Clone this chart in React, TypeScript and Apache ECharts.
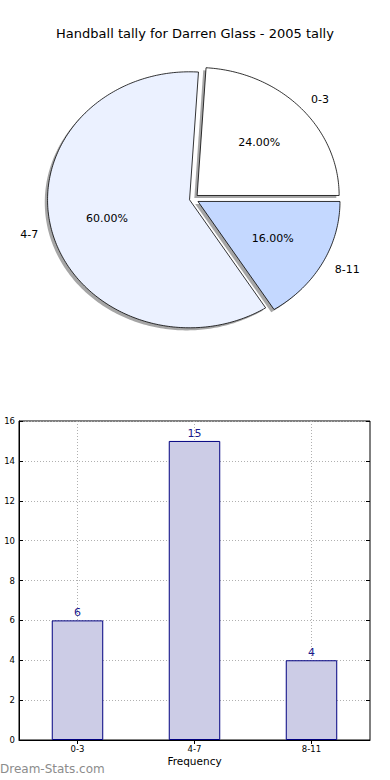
import React, { useEffect, useRef } from "react";
import * as echarts from "echarts";

const pieTitle = "Handball tally for Darren Glass - 2005 tally";
const pieLabels = ["0-3", "4-7", "8-11"];
const pieValues = [6, 15, 4];
const pieColors = ["#ffffff", "#ebf1ff", "#c4d8ff"];
const pieExplode = [0.04, 0.025, 0.04];

const barCategories = ["0-3", "4-7", "8-11"];
const barValues = [6, 15, 4];
const yMin = 0;
const yMax = 16;
const yInterval = 2;
const xAxisName = "Frequency";
const yAxisName = "Handball Tally";
const watermark = "Dream-Stats.com";

const FONT = "DejaVu Sans";
const CX = 193;
const CY = 199;
const RX = 142;
const RY = 128;

export default function App() {
  const ref = useRef<HTMLDivElement>(null);
  useEffect(() => {
    if (!ref.current) return;
    const chart = echarts.init(ref.current, undefined, { renderer: "svg" });
    const total = pieValues.reduce((a, b) => a + b, 0);
    const starts: number[] = [];
    let acc = 0;
    pieValues.forEach((v) => {
      starts.push(acc);
      acc += v;
    });

    const renderPie = (params: any, api: any) => {
      const i = params.dataIndex;
      const v = api.value(0);
      const t1 = (2 * Math.PI * starts[i]) / total;
      const t2 = t1 + (2 * Math.PI * v) / total;
      const mid = (t1 + t2) / 2;
      const ex = pieExplode[i];
      const vx = CX + ex * RX * Math.cos(mid);
      const vy = CY - ex * RY * Math.sin(mid);
      const pts: number[][] = [[vx, vy]];
      const n = Math.max(8, Math.ceil(((t2 - t1) * 180) / Math.PI));
      for (let k = 0; k <= n; k++) {
        const t = t1 + ((t2 - t1) * k) / n;
        pts.push([vx + RX * Math.cos(t), vy - RY * Math.sin(t)]);
      }
      const shadowPts = pts.map((p) => [p[0] - 2.8, p[1] + 2.6]);
      const lx = vx + 1.1 * RX * Math.cos(mid);
      const ly = vy - 1.1 * RY * Math.sin(mid);
      const px = vx + 0.6 * RX * Math.cos(mid);
      const py = vy - 0.6 * RY * Math.sin(mid);
      const pct = ((v / total) * 100).toFixed(2) + "%";
      return {
        type: "group",
        children: [
          {
            type: "polygon",
            z2: 0,
            shape: { points: shadowPts },
            style: { fill: "rgba(77,77,77,0.5)", stroke: "none" },
          },
          {
            type: "polygon",
            z2: 5,
            shape: { points: pts },
            style: { fill: pieColors[i], stroke: "#000", lineWidth: 0.8 },
          },
          {
            type: "text",
            z2: 10,
            x: lx,
            y: ly,
            style: {
              text: pieLabels[i],
              fill: "#000",
              font: `11px "${FONT}"`,
              align: Math.cos(mid) > 0 ? "left" : "right",
              verticalAlign: "middle",
            },
          },
          {
            type: "text",
            z2: 10,
            x: px,
            y: py,
            style: {
              text: pct,
              fill: "#000",
              font: `11px "${FONT}"`,
              align: "center",
              verticalAlign: "middle",
            },
          },
        ],
      };
    };

    const gridLine = { show: true, lineStyle: { color: "#b0b0b0", type: [1, 2], width: 1 } };

    chart.setOption({
      animation: false,
      textStyle: { fontFamily: FONT },
      title: {
        text: pieTitle,
        left: "center",
        top: 22,
        textStyle: { fontFamily: FONT, fontSize: 13, fontWeight: "normal", color: "#000" },
      },
      grid: {
        left: 19,
        right: 20,
        top: 421,
        bottom: 40,
        containLabel: false,
        outerBoundsMode: "none",
        show: true,
        borderColor: "#000",
        borderWidth: 1,
        backgroundColor: "transparent",
      },
      xAxis: [
        {
          type: "category",
          data: barCategories,
          boundaryGap: true,
          name: xAxisName,
          nameLocation: "middle",
          nameGap: 15,
          nameTextStyle: { fontFamily: FONT, fontSize: 10.5, color: "#000" },
          axisLine: { show: true, lineStyle: { color: "#000" } },
          axisTick: { show: true, alignWithLabel: true, inside: true, length: 4, lineStyle: { color: "#000" } },
          axisLabel: { fontFamily: FONT, fontSize: 8.5, color: "#000", margin: 4 },
          splitLine: { ...gridLine, alignWithLabel: true },
        },
        {
          type: "category",
          data: barCategories,
          position: "top",
          boundaryGap: true,
          axisLine: { show: false },
          axisTick: { show: true, alignWithLabel: true, inside: true, length: 4, lineStyle: { color: "#000" } },
          axisLabel: { show: false },
          splitLine: { show: false },
        },
      ],
      yAxis: [
        {
          type: "value",
          min: yMin,
          max: yMax,
          interval: yInterval,
          name: yAxisName,
          nameLocation: "middle",
          nameGap: 16,
          nameRotate: 90,
          nameTextStyle: { fontFamily: FONT, fontSize: 10, color: "#000" },
          axisLine: { show: true, lineStyle: { color: "#000" } },
          axisTick: { show: true, inside: true, length: 4, lineStyle: { color: "#000" } },
          axisLabel: { fontFamily: FONT, fontSize: 8.5, color: "#000", margin: 4 },
          splitLine: gridLine,
        },
        {
          type: "value",
          position: "right",
          min: yMin,
          max: yMax,
          interval: yInterval,
          axisLine: { show: false },
          axisTick: { show: true, inside: true, length: 4, lineStyle: { color: "#000" } },
          axisLabel: { show: false },
          splitLine: { show: false },
        },
      ],
      graphic: [
        {
          type: "text",
          left: 0,
          top: 763,
          style: { text: watermark, fill: "#8c8c8c", font: `12px "${FONT}"` },
        },
      ],
      series: [
        {
          type: "custom",
          coordinateSystem: "none",
          renderItem: renderPie,
          data: pieValues.map((v) => [v]),
          silent: true,
        },
        {
          type: "bar",
          xAxisIndex: 0,
          yAxisIndex: 0,
          data: barValues,
          barWidth: "44%",
          itemStyle: { color: "#ccccE6", borderColor: "#000080", borderWidth: 1 },
          label: {
            show: true,
            position: "top",
            distance: 2,
            color: "#1a1a8c",
            fontFamily: FONT,
            fontSize: 11,
          },
        },
      ],
    });
    return () => chart.dispose();
  }, []);
  return (
    <div
      ref={ref}
      style={{ position: "fixed", left: 0, top: 0, width: 390, height: 780, background: "#fff" }}
    />
  );
}
